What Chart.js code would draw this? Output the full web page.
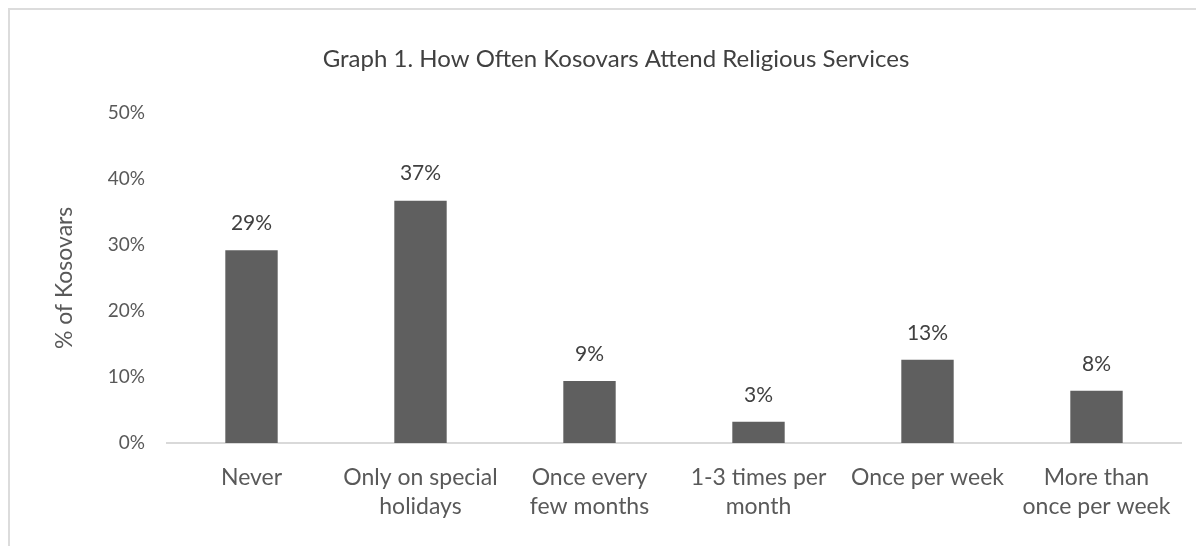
<!DOCTYPE html>
<html>
<head>
<meta charset="utf-8">
<title>Religious service attendance</title>
<script src="https://cdn.jsdelivr.net/npm/chart.js@4.4.1/dist/chart.umd.min.js"></script>
<style>
  html, body { margin: 0; padding: 0; background: #fff; }
  #wrap { position: relative; width: 1196px; height: 546px; overflow: hidden; }
  #frame {
    position: absolute; left: 8px; top: 8px; width: 1400px; height: 700px;
    border-top: 2px solid #dcdcdc; border-left: 2px solid #dcdcdc;
  }
  #chart { position: absolute; left: 0; top: 0; }
</style>
</head>
<body>
<div id="wrap">
  <div id="frame"></div>
  <canvas id="chart" width="1196" height="546"></canvas>
</div>
<script>
// survey answers and share of respondents (%)
const categories = [
    "Never",
    ["Only on special", "holidays"],
    ["Once every", "few months"],
    ["1-3 times per", "month"],
    "Once per week",
    ["More than", "once per week"]
];
const shares = [29.2, 36.7, 9.4, 3.2, 12.6, 7.9];
const yTicks = [0, 10, 20, 30, 40, 50];

const FONT = "Lato, 'Open Sans', sans-serif";

// writes the rounded value above each bar
const barValueLabels = {
    id: "barValueLabels",
    afterDatasetsDraw(chart) {
        const ctx = chart.ctx;
        const meta = chart.getDatasetMeta(0);
        ctx.save();
        ctx.font = "21px " + FONT;
        ctx.fillStyle = "#404040";
        ctx.textAlign = "center";
        ctx.textBaseline = "middle";
        meta.data.forEach((bar, i) => {
            ctx.fillText(Math.round(shares[i]) + "%", bar.x, bar.y - 27);
        });
        ctx.restore();
    }
};

const ctx = document.getElementById("chart").getContext("2d");
const chart = new Chart(ctx, {
    type: "bar",
    data: {
        labels: categories,
        datasets: [{
            data: shares,
            backgroundColor: "#5f5f5f",
            borderWidth: 0,
            categoryPercentage: 1,
            barPercentage: 0.31
        }]
    },
    options: {
        responsive: false,
        animation: false,
        layout: { padding: { left: 51, right: 15, top: 0, bottom: 0 } },
        plugins: {
            legend: { display: false },
            tooltip: { enabled: false },
            title: {
                display: true,
                text: "Graph 1. How Often Kosovars Attend Religious Services",
                color: "#404040",
                font: { family: FONT, size: 24, weight: "normal" },
                padding: { top: 45, bottom: 39 }
            }
        },
        scales: {
            x: {
                grid: { display: false },
                border: { display: true, color: "#d9d9d9", width: 2 },
                ticks: {
                    color: "#595959",
                    font: { family: FONT, size: 23, lineHeight: 1.22 },
                    padding: 13,
                    maxRotation: 0,
                    autoSkip: false
                },
                afterFit(scale) { scale.height = 103; }
            },
            y: {
                min: 0,
                max: 50,
                afterBuildTicks(scale) {
                    scale.ticks = yTicks.map(v => ({ value: v }));
                },
                grid: { display: false, drawTicks: false },
                border: { display: false },
                ticks: {
                    color: "#595959",
                    font: { family: FONT, size: 19 },
                    padding: 22,
                    callback: v => v + "%"
                },
                title: {
                    display: true,
                    text: "% of Kosovars",
                    color: "#595959",
                    font: { family: FONT, size: 23, lineHeight: 1.2 },
                    padding: 0
                },
                afterFit(scale) { scale.width = 116; }
            }
        }
    },
    plugins: [barValueLabels]
});
</script>
</body>
</html>
